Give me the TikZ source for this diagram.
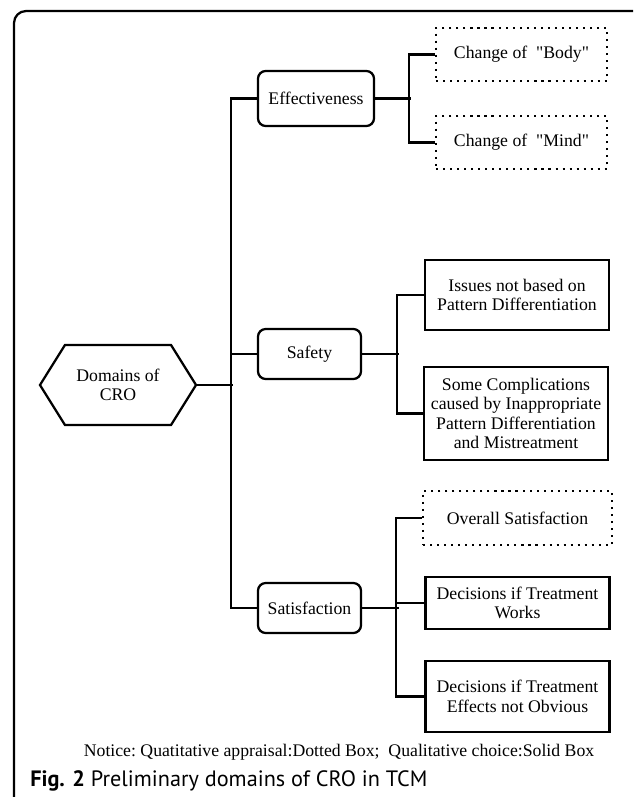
\documentclass[tikz,border=0pt]{standalone}
\usepackage{fontspec}
\setmainfont{Liberation Serif}
\newfontfamily\capfont{PT Sans}
\usetikzlibrary{shapes.symbols}
\tikzset{
	conn/.style={line width=1.6pt},
	domainbox/.style={draw, line width=1.6pt, rounded corners=5.5pt, align=center, inner sep=2pt},
	solidbox/.style={draw, line width=1.6pt, align=center, inner sep=2pt, minimum width=4.6cm},
	dotbox/.style={solidbox, dash pattern=on 1.5pt off 3.5pt},
	hexa/.style={draw, line width=1.6pt, shape=signal, signal to=west and east, signal pointer angle=116, align=center, minimum width=3.9cm, minimum height=2cm, inner sep=0pt},
}
\begin{document}
\begin{tikzpicture}[x=0.025cm, y=-0.025cm, font=\fontsize{12.6pt}{13.9pt}\selectfont]
			%%%%% START %%%%%
			\useasboundingbox (0, 0) rectangle (633, 797);
			\clip (0, 0) rectangle (633, 797);
			
			\draw[conn, rounded corners=0.3cm] (14, 11) rectangle (645, 840);
			
			\node[hexa] (dom) at (118, 385) {Domains of\\CRO};
			
			\node[domainbox, minimum width=2.9cm, minimum height=1.375cm] (eff) at (316, 98.5) {Effectiveness};
			\node[domainbox, minimum width=2.575cm, minimum height=1.25cm] (safe) at (309.5, 354) {Safety};
			\node[domainbox, minimum width=2.575cm, minimum height=1.25cm] (sat) at (309.5, 608) {Satisfaction};
			
			\node[dotbox, minimum width=4.275cm, minimum height=1.325cm] (body) at (521.5, 54.5) {Change of\ \ \textquotedbl Body\textquotedbl};
			\node[dotbox, minimum width=4.275cm, minimum height=1.325cm] (mind) at (521.5, 142.5) {Change of\ \ \textquotedbl Mind\textquotedbl};
			
			\node[solidbox, minimum height=1.75cm] (issues) at (517, 295) {Issues not based on\\Pattern Differentiation};
			\node[solidbox, minimum height=2.325cm] (compl) at (516, 413.5) {Some Complications\\caused by Inappropriate\\Pattern Differentiation\\and Mistreatment};
			
			\node[dotbox, minimum width=4.725cm, minimum height=1.35cm] (overall) at (517.5, 518) {Overall Satisfaction};
			\node[solidbox, minimum height=1.3cm] (works) at (517.5, 603) {Decisions if Treatment\\Works};
			\node[solidbox, minimum height=1.775cm] (effects) at (517.5, 696.5) {Decisions if Treatment\\Effects not Obvious};
			
			% spine
			\draw[conn] (dom.east) -- ++(36, 0);
			\draw[conn] (eff.west) -- ++(-26, 0) |- (sat.west);
			\draw[conn] (safe.west) -- ++(-26, 0);
			
			% effectiveness
			\draw[conn] (eff.east) -- ++(36, 0);
			\draw[conn] (body.west) -- ++(-26, 0) |- (mind.west);
			
			% safety
			\draw[conn] (safe.east) -- ++(37, 0);
			\draw[conn] (issues.west) -- ++(-27, 0) |- (compl.west);
			
			% satisfaction
			\draw[conn] (sat.east) -- ++(37, 0);
			\draw[conn] (overall.west) -- ++(-26, 0) |- (effects.west);
			\draw[conn] (works.west) -- ++(-27, 0);
			
			\node (notice) at (339, 752) {Notice:\ Quatitative appraisal:Dotted Box;\ \ Qualitative choice:Solid Box};
			\node[anchor=west, inner sep=0pt, font=\capfont\fontsize{15.8pt}{18pt}\selectfont] (caption) at (30, 781) {\textbf{Fig. 2} Preliminary domains of CRO in TCM};
			
			%%%%% END %%%%%
\end{tikzpicture}
\end{document}
